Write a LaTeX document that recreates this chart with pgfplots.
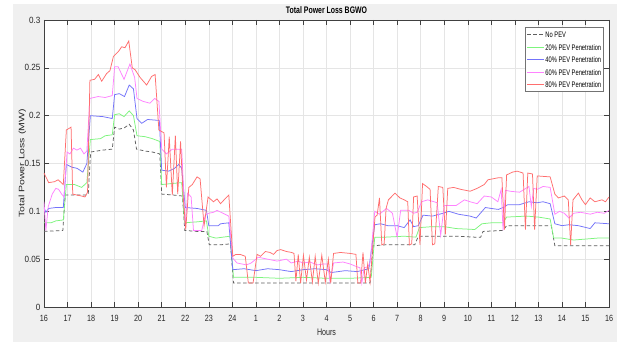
\documentclass[border=0pt]{standalone}
\usepackage{fontspec}
\setmainfont{Liberation Sans}
\usepackage{graphicx}
\usepackage{pgfplots}
\pgfplotsset{compat=1.18}
\definecolor{figbg}{RGB}{240,240,240}
\definecolor{cNo}{RGB}{95,95,95}
\definecolor{cG}{RGB}{125,245,125}
\definecolor{cB}{RGB}{115,115,250}
\definecolor{cM}{RGB}{255,130,255}
\definecolor{cR}{RGB}{255,110,110}
\newcommand{\sq}[2][0.8]{\scalebox{#1}[1]{#2}}
\begin{document}
\begin{tikzpicture}
\path[use as bounding box] (0pt,0pt) rectangle (617pt,347pt);
\fill[white] (0pt,0pt) rectangle (617pt,347pt);
\fill[figbg] (13pt,5pt) rectangle (617pt,343pt);
\begin{axis}[
  at={(44pt,40pt)}, anchor=south west, scale only axis,
  width=565pt, height=287pt,
  xmin=0, xmax=24, ymin=0, ymax=0.3,
  axis background/.style={fill=white},
  xtick={0,1,...,24},
  xticklabels={\sq{16},\sq{17},\sq{18},\sq{19},\sq{20},\sq{21},\sq{22},\sq{23},\sq{24},\sq{1},\sq{2},\sq{3},\sq{4},\sq{5},\sq{6},\sq{7},\sq{8},\sq{9},\sq{10},\sq{11},\sq{12},\sq{13},\sq{14},\sq{15},\sq{16}},
  ytick={0,0.05,0.1,0.15,0.2,0.25,0.3},
  yticklabels={\sq[0.9]{0},\sq[0.9]{0.05},\sq[0.9]{0.1},\sq[0.9]{0.15},\sq[0.9]{0.2},\sq[0.9]{0.25},\sq[0.9]{0.3}},
  tick align=inside, major tick length=5pt,
  grid=major, major grid style={gray!20, line width=0.5pt},
  axis line style={black!75, line width=0.5pt},
  tick style={black!75, line width=0.5pt},
  every tick label/.append style={font=\fontsize{9}{10}\selectfont, text=black!85},
  xticklabel style={yshift=-5pt},
  title={\sq[0.73]{Total Power Loss BGWO}},
  title style={at={(axis description cs:0.5,1.012)}, anchor=center, font=\bfseries\fontsize{9.5}{11}\selectfont},
  xlabel={\sq[0.75]{Hours}},
  xlabel style={at={(axis description cs:0.5,-0.0871)}, anchor=center, font=\fontsize{9.5}{11}\selectfont, text=black!85},
  ylabel={\scalebox{1}[0.75]{Total Power Loss (MW)}},
  ylabel style={at={(axis description cs:-0.0382,0.5)}, anchor=center, font=\fontsize{10.5}{12}\selectfont, text=black!85},
  every axis plot/.append style={line width=0.75pt},
  no markers,
  legend cell align=left,
  legend image code/.code={\draw[#1] (0pt,0pt) -- (17pt,0pt);},
  legend style={at={(axis description cs:0.99115,0.9756)}, anchor=north east,
    draw=black!55, fill=white, line width=0.6pt,
    font=\fontsize{8}{9}\selectfont, inner xsep=1.5pt, inner ysep=1pt, row sep=0pt,
    nodes={inner xsep=1pt, inner ysep=0.75pt, text height=8.5pt, text depth=2.5pt}},
]
% No PEV
\addplot[cNo, dash pattern=on 3.5pt off 2.5pt] coordinates {
(0,0.079) (0.8,0.080) (0.9,0.117) (1.5,0.117) (1.8,0.117) (1.88,0.118) (1.98,0.162) (2.5,0.164) (2.9,0.165) (3.0,0.188) (3.2,0.186) (3.4,0.187) (3.62,0.191) (3.8,0.185) (3.93,0.165) (4.3,0.163) (4.6,0.162) (4.92,0.160) (5.0,0.118) (5.5,0.117) (5.88,0.116) (5.98,0.080) (6.5,0.079) (6.92,0.079) (7.02,0.065) (7.5,0.065) (7.92,0.066) (8.05,0.025) (13.85,0.025) (13.98,0.064) (14.5,0.065) (15.5,0.065) (15.75,0.065) (15.9,0.074) (17.5,0.074) (18.3,0.073) (18.55,0.073) (18.65,0.079) (19.5,0.080) (19.65,0.085) (21.55,0.085) (21.7,0.064) (24,0.064)
};
\addlegendentry{\sq[0.72]{No PEV}}
% 20%
\addplot[cG] coordinates {
(0,0.088) (0.3,0.088) (0.5,0.090) (0.82,0.091) (0.95,0.128) (1.3,0.128) (1.6,0.125) (1.82,0.130) (1.97,0.175) (2.4,0.176) (2.6,0.179) (2.9,0.180) (3.0,0.201) (3.2,0.202) (3.4,0.199) (3.62,0.205) (3.8,0.200) (3.95,0.179) (4.3,0.178) (4.6,0.176) (4.92,0.173) (5.0,0.128) (5.4,0.129) (5.85,0.130) (5.97,0.088) (6.5,0.089) (6.9,0.090) (7.0,0.074) (7.3,0.072) (7.9,0.074) (8.05,0.031) (9,0.031) (10,0.030) (11,0.031) (12,0.030) (13,0.030) (13.9,0.031) (14.05,0.073) (14.5,0.073) (15.3,0.074) (15.8,0.073) (15.95,0.083) (16.5,0.084) (17.0,0.084) (17.5,0.082) (18.3,0.081) (18.6,0.087) (19.0,0.088) (19.5,0.088) (19.65,0.094) (20.5,0.095) (21.0,0.094) (21.5,0.092) (21.65,0.072) (22.0,0.072) (22.5,0.070) (23.0,0.071) (23.5,0.072) (24,0.072)
};
\addlegendentry{\sq[0.72]{20\% PEV Penetration}}
% 40%
\addplot[cB] coordinates {
(0,0.104) (0.08,0.099) (0.2,0.103) (0.5,0.104) (0.82,0.104) (0.95,0.149) (1.2,0.146) (1.4,0.145) (1.65,0.141) (1.82,0.150) (1.97,0.200) (2.5,0.199) (2.9,0.197) (3.0,0.222) (3.2,0.223) (3.42,0.220) (3.62,0.232) (3.8,0.228) (3.95,0.197) (4.15,0.192) (4.4,0.196) (4.9,0.195) (5.0,0.143) (5.3,0.142) (5.55,0.145) (5.72,0.149) (5.85,0.145) (6.0,0.104) (6.5,0.103) (6.9,0.101) (7.0,0.085) (7.4,0.085) (7.5,0.087) (7.85,0.088) (8.02,0.039) (8.5,0.040) (9.0,0.038) (9.5,0.040) (10.0,0.039) (10.5,0.037) (11.0,0.039) (11.5,0.040) (12.0,0.039) (12.2,0.036) (12.8,0.038) (13.3,0.037) (13.8,0.040) (14.05,0.086) (14.3,0.087) (14.6,0.085) (15.0,0.085) (15.3,0.083) (15.55,0.091) (15.7,0.084) (15.9,0.085) (16.1,0.096) (16.5,0.095) (16.95,0.098) (17.2,0.100) (17.6,0.097) (18.1,0.095) (18.36,0.093) (18.75,0.104) (19.0,0.103) (19.3,0.102) (19.5,0.104) (19.7,0.107) (20.2,0.107) (20.6,0.110) (20.95,0.109) (21.2,0.110) (21.5,0.108) (21.7,0.087) (22.0,0.085) (22.3,0.086) (22.7,0.085) (23.2,0.082) (23.4,0.088) (24,0.087)
};
\addlegendentry{\sq[0.72]{40\% PEV Penetration}}
% 60%
\addplot[cM] coordinates {
(0,0.110) (0.08,0.080) (0.18,0.105) (0.35,0.118) (0.5,0.124) (0.62,0.123) (0.75,0.118) (0.85,0.115) (0.98,0.162) (1.1,0.160) (1.25,0.166) (1.4,0.164) (1.55,0.166) (1.7,0.160) (1.82,0.163) (1.95,0.218) (2.3,0.220) (2.6,0.219) (2.9,0.221) (3.0,0.251) (3.15,0.251) (3.4,0.238) (3.65,0.254) (3.85,0.240) (3.95,0.218) (4.2,0.215) (4.5,0.213) (4.7,0.218) (4.88,0.215) (5.0,0.165) (5.2,0.160) (5.45,0.165) (5.85,0.165) (6.0,0.083) (6.1,0.119) (6.25,0.115) (6.35,0.080) (6.7,0.080) (6.85,0.096) (7.0,0.098) (7.2,0.099) (7.35,0.101) (7.6,0.098) (7.85,0.095) (8.02,0.051) (8.2,0.046) (8.6,0.044) (8.8,0.046) (9.1,0.052) (9.5,0.050) (9.9,0.048) (10.3,0.050) (10.5,0.046) (10.8,0.048) (11.0,0.046) (11.3,0.047) (11.6,0.044) (11.9,0.045) (12.05,0.045) (12.15,0.026) (12.3,0.046) (12.7,0.047) (13.0,0.045) (13.3,0.042) (13.42,0.041) (13.5,0.025) (13.6,0.041) (13.75,0.042) (13.85,0.046) (14.05,0.100) (14.25,0.097) (14.55,0.103) (14.8,0.098) (15.0,0.073) (15.15,0.101) (15.5,0.101) (15.7,0.098) (15.85,0.099) (16.04,0.110) (16.3,0.112) (16.7,0.109) (16.85,0.075) (17.0,0.106) (17.5,0.106) (17.86,0.112) (18.1,0.110) (18.4,0.108) (18.7,0.116) (19.0,0.115) (19.28,0.110) (19.42,0.123) (19.5,0.080) (19.6,0.122) (19.8,0.121) (20.2,0.120) (20.6,0.126) (20.7,0.105) (20.8,0.124) (20.95,0.123) (21.2,0.126) (21.5,0.125) (21.7,0.097) (21.9,0.100) (22.1,0.098) (22.3,0.093) (22.5,0.098) (22.8,0.099) (23.2,0.097) (23.5,0.099) (23.8,0.098) (24,0.101)
};
\addlegendentry{\sq[0.72]{60\% PEV Penetration}}
% 80%
\addplot[cR] coordinates {
(0,0.140) (0.2,0.130) (0.45,0.131) (0.6,0.133) (0.82,0.128) (0.95,0.185) (1.15,0.188) (1.22,0.118) (1.4,0.117) (1.6,0.116) (1.74,0.115) (1.85,0.120) (1.95,0.237) (2.15,0.238) (2.31,0.243) (2.45,0.236) (2.66,0.244) (2.8,0.247) (2.95,0.262) (3.16,0.267) (3.3,0.272) (3.44,0.271) (3.6,0.278) (3.75,0.250) (3.87,0.248) (4.08,0.240) (4.36,0.232) (4.57,0.241) (4.72,0.243) (4.88,0.185) (5.1,0.182) (5.2,0.125) (5.32,0.178) (5.45,0.117) (5.58,0.179) (5.68,0.118) (5.8,0.173) (5.9,0.120) (6.02,0.081) (6.15,0.125) (6.3,0.128) (6.5,0.136) (6.63,0.134) (6.8,0.085) (6.97,0.115) (7.2,0.110) (7.35,0.113) (7.5,0.108) (7.65,0.112) (7.85,0.117) (8.02,0.053) (8.15,0.055) (8.33,0.055) (8.55,0.053) (8.68,0.025) (8.88,0.025) (9.05,0.055) (9.2,0.053) (9.4,0.058) (9.6,0.057) (9.75,0.055) (9.9,0.059) (10.05,0.060) (10.3,0.058) (10.52,0.057) (10.62,0.056) (10.7,0.027) (10.8,0.055) (10.9,0.025) (11.02,0.054) (11.15,0.028) (11.27,0.052) (11.4,0.026) (11.52,0.053) (11.65,0.025) (11.8,0.054) (11.95,0.026) (12.08,0.050) (12.18,0.025) (12.3,0.056) (12.6,0.057) (13.0,0.056) (13.25,0.055) (13.33,0.025) (13.45,0.025) (13.55,0.057) (13.65,0.025) (13.75,0.045) (13.85,0.026) (14.06,0.094) (14.15,0.096) (14.25,0.114) (14.35,0.065) (14.45,0.066) (14.53,0.103) (14.63,0.112) (14.91,0.119) (15.12,0.114) (15.3,0.112) (15.45,0.110) (15.52,0.065) (15.62,0.066) (15.7,0.115) (15.85,0.116) (15.97,0.065) (16.08,0.129) (16.25,0.126) (16.4,0.123) (16.5,0.065) (16.6,0.066) (16.75,0.126) (16.94,0.125) (17.05,0.076) (17.15,0.124) (17.4,0.125) (17.7,0.123) (17.9,0.122) (18.1,0.121) (18.4,0.124) (18.7,0.128) (18.86,0.133) (19.28,0.135) (19.45,0.135) (19.56,0.081) (19.65,0.138) (19.9,0.141) (20.1,0.142) (20.35,0.140) (20.45,0.081) (20.55,0.140) (20.75,0.139) (20.84,0.081) (20.95,0.137) (21.5,0.136) (21.7,0.118) (21.85,0.114) (22.1,0.116) (22.27,0.112) (22.37,0.065) (22.47,0.112) (22.7,0.119) (22.85,0.112) (23.0,0.107) (23.2,0.114) (23.4,0.110) (23.7,0.112) (23.85,0.110) (24,0.115)
};
\addlegendentry{\sq[0.72]{80\% PEV Penetration}}
\end{axis}
\end{tikzpicture}
\end{document}
